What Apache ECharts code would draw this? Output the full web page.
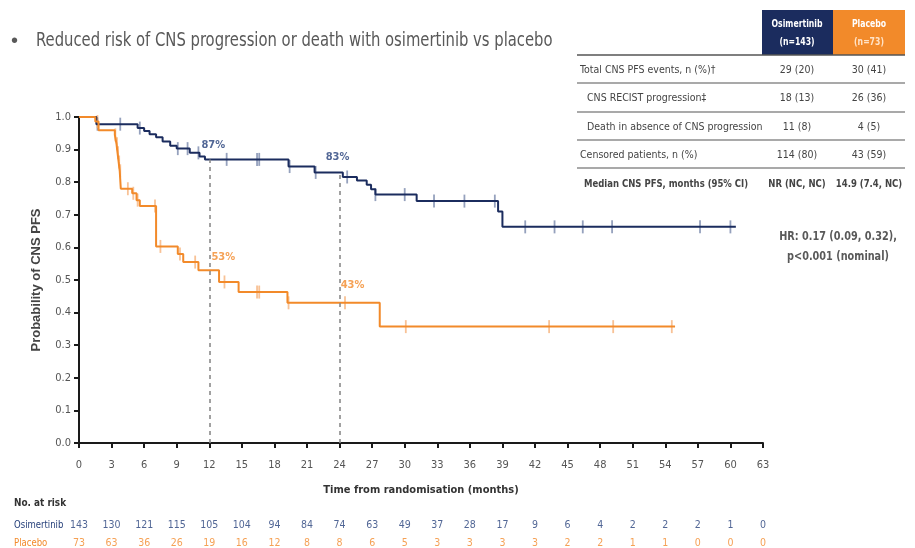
<!DOCTYPE html>
<html>
<head>
<meta charset="utf-8">
<script src="https://cdn.jsdelivr.net/npm/echarts@6/dist/echarts.min.js"></script>
<style>
  html, body { margin: 0; padding: 0; background: #fff; }
  #chart { width: 915px; height: 548px; }
</style>
</head>
<body>
<div id="chart"></div>
<script>
// Kaplan-Meier steps: [month, survival probability from that month on]
const osiSteps = [
  [0, 1.0], [1.6, 0.978], [5.4, 0.966], [6.0, 0.957], [6.5, 0.947], [7.1, 0.938],
  [7.7, 0.925], [8.4, 0.912], [9.0, 0.903], [10.2, 0.89], [11.1, 0.879], [11.6, 0.87],
  [19.3, 0.848], [21.7, 0.83], [24.3, 0.816], [25.6, 0.805], [26.5, 0.792], [26.9, 0.778],
  [27.3, 0.762], [31.1, 0.742], [38.6, 0.71], [39.0, 0.663], [60.5, 0.663]
];
const plaSteps = [
  [0, 1.0], [1.5, 0.986], [1.8, 0.959], [3.3, 0.945], [3.45, 0.918], [3.55, 0.89],
  [3.65, 0.862], [3.75, 0.835], [3.85, 0.78], [4.9, 0.766], [5.3, 0.745], [5.6, 0.727],
  [7.1, 0.603], [9.1, 0.58], [9.6, 0.555], [11.0, 0.53], [12.9, 0.494], [14.7, 0.463],
  [19.2, 0.43], [27.7, 0.357], [54.9, 0.357]
];
// censoring times (months)
const osiCensor = [1.7, 3.8, 5.6, 9.1, 10.0, 11.0, 13.6, 16.4, 16.6, 19.4, 21.8, 24.7, 27.3,
  30.0, 32.7, 35.5, 38.3, 41.1, 43.8, 46.4, 49.1, 57.2, 60.0];
const plaCensor = [1.7, 3.35, 3.5, 3.6, 3.7, 3.8, 4.5, 5.0, 5.4, 7.0, 7.5, 9.3, 10.7, 13.4,
  16.4, 16.6, 19.3, 24.5, 30.1, 43.3, 49.2, 54.6];
// landmark months annotated with survival
const landmarks = [12, 24];

// number at risk
const riskMonths = [0, 3, 6, 9, 12, 15, 18, 21, 24, 27, 30, 33, 36, 39, 42, 45, 48, 51, 54, 57, 60, 63];
const osiRisk = [143, 130, 121, 115, 105, 104, 94, 84, 74, 63, 49, 37, 28, 17, 9, 6, 4, 2, 2, 2, 1, 0];
const plaRisk = [73, 63, 36, 26, 19, 16, 12, 8, 8, 6, 5, 3, 3, 3, 3, 2, 2, 1, 1, 0, 0, 0];
const armNames = ['Osimertinib', 'Placebo'];

// summary table
const tableHeads = [['Osimertinib', '(n=143)'], ['Placebo', '(n=73)']];
const tableRows = ['Total CNS PFS events, n (%)\u2020', 'CNS RECIST progression\u2021',
  'Death in absence of CNS progression', 'Censored patients, n (%)', 'Median CNS PFS, months (95% CI)'];
const osiCol = ['29 (20)', '18 (13)', '11 (8)', '114 (80)', 'NR (NC, NC)'];
const plaCol = ['30 (41)', '26 (36)', '4 (5)', '43 (59)', '14.9 (7.4, NC)'];
const hrLines = ['HR: 0.17 (0.09, 0.32),', 'p<0.001 (nominal)'];
const titleText = 'Reduced risk of CNS progression or death with osimertinib vs placebo';

const NAVY = '#1b2c5e';
const NAVY_TEXT = '#26407a';
const ORANGE = '#f28a2a';
const NAVY_TICK = '#7a89ad';
const ORANGE_TICK = '#f6b37c';
const GREY = '#595959';
const FONT = "'Liberation Sans Narrow','Arial Narrow','DejaVu Sans Condensed',sans-serif";
const FONT_W = "'Liberation Sans',Arial,sans-serif";

function survAt(steps, t) {
  let v = steps[0][1];
  for (const s of steps) { if (s[0] <= t) v = s[1]; else break; }
  return v;
}

// horizontally condensed text element
function txt(x, y, text, font, fill, align, sx) {
  return {
    type: 'group', x: x, y: y, scaleX: sx || 1,
    children: [{ type: 'text', x: 0, y: 0, style: { text: text, font: font, fill: fill, align: align || 'left', verticalAlign: 'middle' } }]
  };
}

const chart = echarts.init(document.getElementById('chart'), null, { renderer: 'canvas' });

const gridLeft = 79, gridRight = 152;

const graphics = [];
graphics.push(txt(11, 41, '\u2022', '20px ' + FONT_W, GREY));
graphics.push(txt(36, 41, titleText, '20px ' + FONT, GREY, 'left', 0.823));

// summary table
const colX = [762, 833], colW = 71, colCx = [797, 869];
const headFill = [NAVY, ORANGE];
tableHeads.forEach((h, i) => {
  graphics.push({ type: 'rect', shape: { x: colX[i], y: 10, width: colW + (i === 1 ? 1 : 0), height: 45 }, style: { fill: headFill[i] } });
  graphics.push(txt(colCx[i], 24, h[0], 'bold 10px ' + FONT, '#fff', 'center', 0.86));
  graphics.push(txt(colCx[i], 42, h[1], 'bold 10px ' + FONT, i === 1 ? '#ffe3c8' : '#fff', 'center', 0.86));
});
const lineYs = [55, 83, 112, 140, 168];
lineYs.forEach((y, i) => {
  graphics.push({ type: 'line', shape: { x1: 577, y1: y, x2: 905, y2: y }, style: { stroke: '#555', lineWidth: i === 0 ? 1.6 : 1.2 } });
});
const rowYs = [70, 98, 127, 155, 184];
const rowX = [580, 587, 587, 580, 584];
tableRows.forEach((r, i) => {
  const bold = i === tableRows.length - 1;
  const f = (bold ? 'bold ' : '') + '10.5px ' + FONT;
  const sx = bold ? 0.9 : 1;
  graphics.push(txt(rowX[i], rowYs[i], r, f, '#444', 'left', sx));
  graphics.push(txt(colCx[0], rowYs[i], osiCol[i], f, '#444', 'center', sx));
  graphics.push(txt(colCx[1], rowYs[i], plaCol[i], f, '#444', 'center', sx));
});
hrLines.forEach((t, i) => {
  graphics.push(txt(838, 237 + i * 20, t, 'bold 13px ' + FONT, GREY, 'center', 0.83));
});
// number-at-risk captions
graphics.push(txt(14, 503, 'No. at risk', 'bold 11px ' + FONT, '#333', 'left', 0.9));
graphics.push(txt(14, 525, armNames[0], '11px ' + FONT, NAVY_TEXT, 'left', 0.86));
graphics.push(txt(14, 543, armNames[1], '11px ' + FONT, ORANGE, 'left', 0.86));

const labelOffsets = { osi: [[4, -14], [-2, -15]], pla: [[14, -13], [13, -18]] };

function landmarkLabels(steps, color, offs) {
  return {
    type: 'scatter', symbolSize: 0, silent: true, z: 5, clip: false,
    data: landmarks.map((t, i) => ({
      value: [t, survAt(steps, t)],
      label: { offset: offs[i] }
    })),
    label: {
      show: true, position: 'inside', color: color, fontWeight: 'bold', fontSize: 11, fontFamily: FONT,
      formatter: p => Math.round(p.value[1] * 100) + '%'
    }
  };
}

function censorSeries(times, steps, color) {
  return {
    type: 'scatter', symbol: 'rect', symbolSize: [1.8, 13], silent: true, z: 3, clip: false,
    itemStyle: { color: color },
    data: times.map(t => [t, survAt(steps, t)])
  };
}

function riskSeries(counts, row, color) {
  return {
    type: 'scatter', xAxisIndex: 1, yAxisIndex: 1, symbolSize: 0, silent: true, clip: false,
    data: riskMonths.map((m, i) => [m, row, counts[i]]),
    label: { show: true, position: 'inside', color: color, fontSize: 10.5, fontFamily: FONT, formatter: p => String(p.value[2]) }
  };
}

const axisLineStyle = { color: '#1a1a1a', width: 2 };

const option = {
  backgroundColor: '#fff',
  animation: false,
  graphic: graphics,
  grid: [
    { left: gridLeft, right: gridRight, top: 117, bottom: 105, outerBoundsMode: 'none' },
    { left: gridLeft, right: gridRight, top: 516, height: 36, outerBoundsMode: 'none' }
  ],
  xAxis: [
    {
      type: 'value', min: 0, max: 63, interval: 3, gridIndex: 0,
      axisLine: { show: true, lineStyle: axisLineStyle },
      axisTick: { show: true, length: 5, lineStyle: { color: '#1a1a1a', width: 2 } },
      axisLabel: { color: '#555', fontSize: 11, margin: 17, fontFamily: FONT },
      splitLine: { show: false },
      name: 'Time from randomisation (months)', nameLocation: 'middle', nameGap: 42,
      nameTextStyle: { color: '#333', fontWeight: 'bold', fontSize: 11, fontFamily: FONT }
    },
    { type: 'value', min: 0, max: 63, gridIndex: 1, show: false }
  ],
  yAxis: [
    {
      type: 'value', min: 0, max: 1, interval: 0.1, gridIndex: 0,
      axisLine: { show: true, lineStyle: axisLineStyle },
      axisTick: { show: true, length: 5, lineStyle: { color: '#1a1a1a', width: 2 } },
      axisLabel: { color: '#555', fontSize: 11, margin: 8, fontFamily: FONT, formatter: v => v.toFixed(1) },
      splitLine: { show: false },
      name: 'Probability of CNS PFS', nameLocation: 'middle', nameGap: 36, nameRotate: 90,
      nameTextStyle: { color: '#444', fontWeight: 'bold', fontSize: 13, fontFamily: FONT_W }
    },
    { type: 'category', gridIndex: 1, inverse: true, data: armNames, show: false }
  ],
  series: [
    {
      type: 'line', step: 'end', symbol: 'none', z: 4, clip: false,
      lineStyle: { color: NAVY, width: 2 }, data: osiSteps,
      markLine: {
        silent: true, symbol: 'none', label: { show: false },
        lineStyle: { color: '#8a8a8a', type: [4, 4], width: 1.6 },
        data: landmarks.map(t => [{ coord: [t, 0] }, { coord: [t, survAt(osiSteps, t)] }])
      }
    },
    {
      type: 'line', step: 'end', symbol: 'none', z: 4, clip: false,
      lineStyle: { color: ORANGE, width: 2 }, data: plaSteps
    },
    censorSeries(osiCensor, osiSteps, NAVY_TICK),
    censorSeries(plaCensor, plaSteps, ORANGE_TICK),
    landmarkLabels(osiSteps, NAVY_TEXT, labelOffsets.osi),
    landmarkLabels(plaSteps, ORANGE, labelOffsets.pla),
    riskSeries(osiRisk, 0, NAVY_TEXT),
    riskSeries(plaRisk, 1, ORANGE)
  ]
};

chart.setOption(option);
</script>
</body>
</html>
